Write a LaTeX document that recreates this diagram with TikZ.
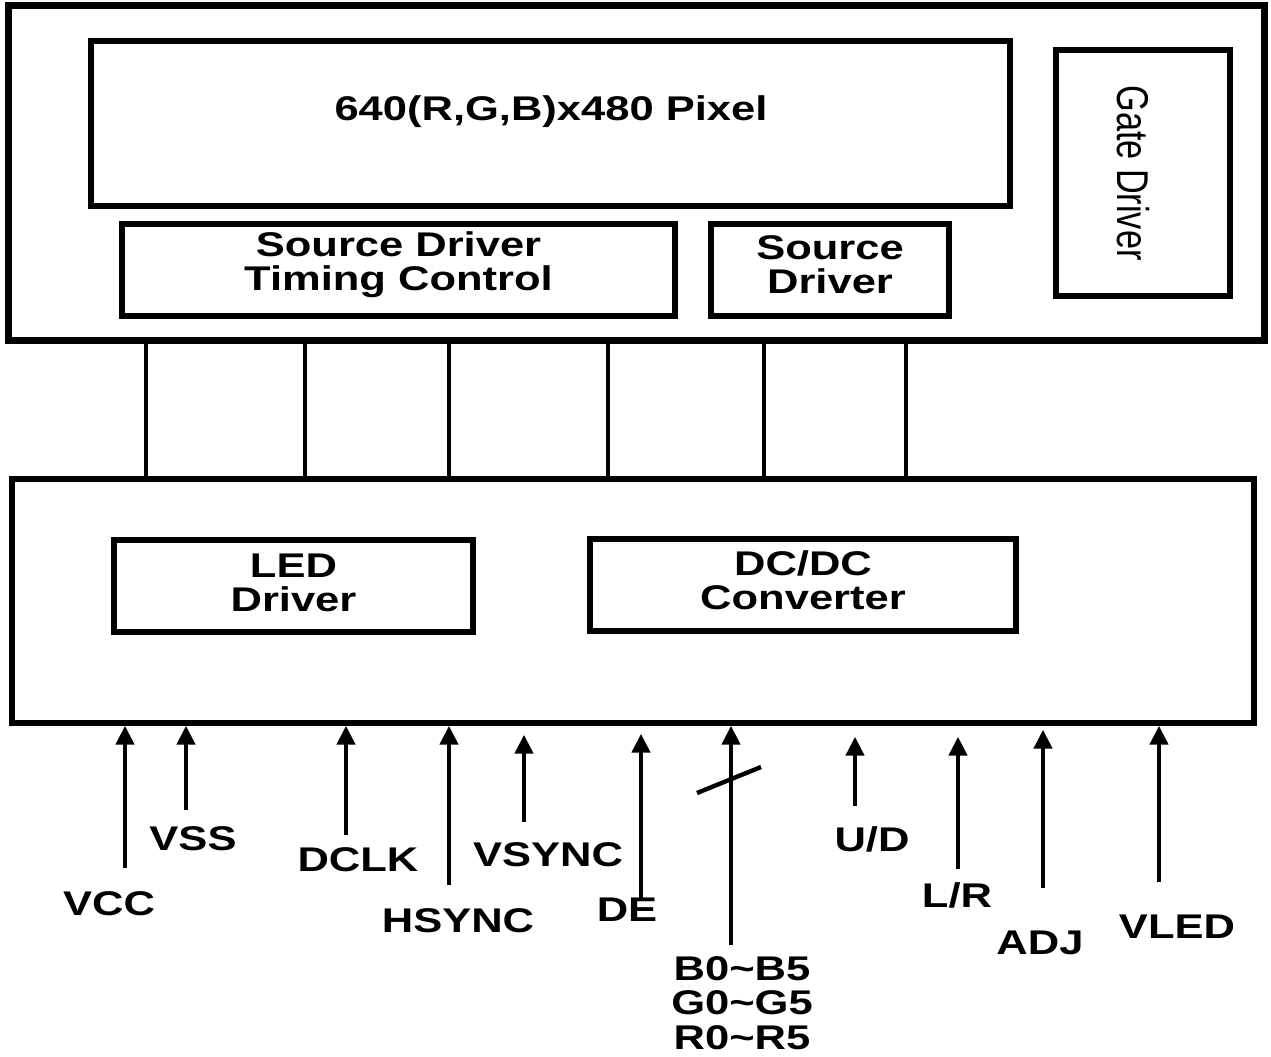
\documentclass[tikz,border=0pt]{standalone}
\usepackage{fontspec}
\setmainfont{Liberation Sans}[FakeStretch=1.27]
\newfontfamily\gatefont{Liberation Sans}
\usetikzlibrary{arrows.meta,positioning}

\tikzset{
	sig/.style={line width=2.5pt,-{Triangle[length=0.38cm,width=0.36cm]}},
	wire/.style={line width=2.2pt},
	lbl/.style={draw=none,anchor=base,inner sep=0pt,font=\fontsize{19.5}{19.5}\selectfont\bfseries}
}

\begin{document}
\begin{tikzpicture}[x=0.02cm,y=-0.02cm]
	\useasboundingbox (0,0) rectangle (1271,1057);
	\begin{scope}[every node/.style={rectangle,draw,line width=3.1pt,inner sep=0pt,align=center,font=\fontsize{19.5}{19.5}\selectfont\bfseries}]
		\node[line width=4pt,minimum width=25.14cm,minimum height=6.72cm] (Panel) at (636.5,173) {};
		\node[minimum width=18.38cm,minimum height=3.3cm] (Pixel) at (550.5,123.5) {};
		\node[draw=none] (PixelTxt) at (551,112) {640(R,G,B)x480 Pixel};
		\node[minimum width=11.06cm,minimum height=1.84cm] (SDTC) at (398.5,270) {};
		\node[draw=none] (SDTCTxt) at (398.5,265) {Source Driver\\Timing Control};
		\node[minimum width=4.76cm,minimum height=1.84cm] (SD) at (830,270) {};
		\node[draw=none] (SDTxt) at (830,265) {Source\\Driver};
		\node[minimum width=3.48cm,minimum height=4.92cm] (Gate) at (1143,173) {};
		\node[draw=none,rotate=-90,yscale=1.3,font=\gatefont\fontsize{19.5}{19.5}\selectfont] (GateTxt) at (1133,173) {Gate Driver};

		\node[minimum width=24.84cm,minimum height=4.88cm] (Board) at (633,601) {};
		\node[minimum width=7.18cm,minimum height=1.84cm] (LED) at (293.5,586) {};
		\node[draw=none] (LEDTxt) at (293.5,583) {LED\\Driver};
		\node[minimum width=8.52cm,minimum height=1.84cm] (DCDC) at (803,585) {};
		\node[draw=none] (DCDCTxt) at (803,580) {DC/DC\\Converter};
	\end{scope}

	% panel to board
	\draw[wire] (146,0 |- Panel.south) -- (146,0 |- Board.north);
	\draw[wire] (305,0 |- Panel.south) -- (305,0 |- Board.north);
	\draw[wire] (449,0 |- Panel.south) -- (449,0 |- Board.north);
	\draw[wire] (608,0 |- Panel.south) -- (608,0 |- Board.north);
	\draw[wire] (764,0 |- Panel.south) -- (764,0 |- Board.north);
	\draw[wire] (906,0 |- Panel.south) -- (906,0 |- Board.north);

	% input signals
	\coordinate (tVCC) at (125,868);
	\coordinate (tVSS) at (186,810);
	\coordinate (tDCLK) at (346,835);
	\coordinate (tHSYNC) at (449,885);
	\coordinate (tVSYNC) at (524,822);
	\coordinate (tDE) at (641,900);
	\coordinate (tRGB) at (731,945);
	\coordinate (tUD) at (855,806);
	\coordinate (tLR) at (958,869);
	\coordinate (tADJ) at (1043,888);
	\coordinate (tVLED) at (1159,882);

	\draw[sig] (tVCC) -- (tVCC |- Board.south);
	\draw[sig] (tVSS) -- (tVSS |- Board.south);
	\draw[sig] (tDCLK) -- (tDCLK |- Board.south);
	\draw[sig] (tHSYNC) -- (tHSYNC |- Board.south);
	\draw[sig,shorten >=0.18cm] (tVSYNC) -- (tVSYNC |- Board.south);
	\draw[sig,shorten >=0.16cm] (tDE) -- (tDE |- Board.south);
	\draw[sig] (tRGB) -- (tRGB |- Board.south);
	\draw[sig,shorten >=0.22cm] (tUD) -- (tUD |- Board.south);
	\draw[sig,shorten >=0.22cm] (tLR) -- (tLR |- Board.south);
	\draw[sig,shorten >=0.08cm] (tADJ) -- (tADJ |- Board.south);
	\draw[sig] (tVLED) -- (tVLED |- Board.south);
	\coordinate (busA) at (697,793);
	\coordinate (busB) at (761,767);
	\draw[line width=2.5pt] (busA) -- (busB);

	\node[lbl] (VCC) at (109,915) {VCC};
	\node[lbl] (VSS) at (193,850) {VSS};
	\node[lbl] (DCLK) at (358,871) {DCLK};
	\node[lbl] (HSYNC) at (458,932) {HSYNC};
	\node[lbl] (VSYNC) at (548,866) {VSYNC};
	\node[lbl] (DE) at (627,921) {DE};
	\node[lbl,anchor=center,align=center] (RGB) at (742,1003) {B0\textasciitilde B5\\G0\textasciitilde G5\\R0\textasciitilde R5};
	\node[lbl] (UD) at (872,851) {U/D};
	\node[lbl] (LR) at (957,907) {L/R};
	\node[lbl] (ADJ) at (1040,954) {ADJ};
	\node[lbl] (VLED) at (1177,938) {VLED};
\end{tikzpicture}
\end{document}
